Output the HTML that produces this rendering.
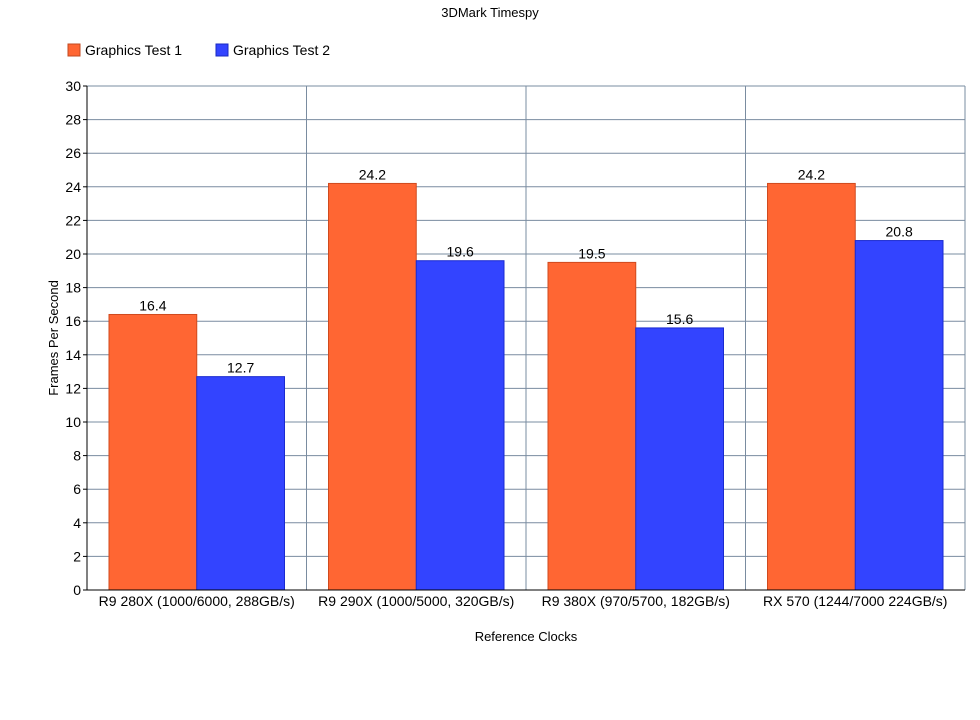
<!DOCTYPE html>
<html><head><meta charset="utf-8"><style>
body{margin:0;background:#fff;}
svg{display:block;font-family:"Liberation Sans",sans-serif;}
</style></head><body>
<svg id="chart" width="980" height="720" viewBox="0 0 980 720">
<text x="490" y="17" text-anchor="middle" font-size="13" fill="#000">3DMark Timespy</text>
<g>
<g>
<rect x="68" y="44" width="12" height="12" fill="#ff6633" stroke="#c04a20"/>
<text x="85" y="55" font-size="14">Graphics Test 1</text></g>
<g>
<rect x="216" y="44" width="12" height="12" fill="#3344ff" stroke="#1a2ac0"/>
<text x="233" y="55" font-size="14">Graphics Test 2</text></g>
</g>
<g id="plot"></g>
<text x="526" y="641" text-anchor="middle" font-size="13">Reference Clocks</text>
<text transform="translate(58,338) rotate(-90)" text-anchor="middle" font-size="13">Frames Per Second</text>
</svg>
<script>
const categories=["R9 280X (1000/6000, 288GB/s)","R9 290X (1000/5000, 320GB/s)","R9 380X (970/5700, 182GB/s)","RX 570 (1244/7000 224GB/s)"];
const test1=[16.4,24.2,19.5,24.2];
const test2=[12.7,19.6,15.6,20.8];
const yTicks=[0,2,4,6,8,10,12,14,16,18,20,22,24,26,28,30];
const NS="http://www.w3.org/2000/svg";
const x0=87,x1=965,y0=590,y1=86,yMax=30;
const band=(x1-x0)/categories.length;
const yS=v=>y0-(v/yMax)*(y0-y1);
const g=document.getElementById('plot');
function mk(t,a){const e=document.createElementNS(NS,t);for(const k in a)e.setAttribute(k,a[k]);g.appendChild(e);return e;}
yTicks.forEach(v=>{
 const l=mk('line',{x1:x0,x2:x1,y1:yS(v),y2:yS(v),stroke:'#7a8ca0','stroke-width':1});
 
 
 const tk=mk('line',{x1:x0-4,x2:x0,y1:yS(v),y2:yS(v),stroke:'#000'});
 
 
 const t=mk('text',{x:x0-6,y:yS(v)+5,'text-anchor':'end','font-size':14});
 t.textContent=v;
 
 
});
for(let i=1;i<=categories.length;i++){
 const l=mk('line',{x1:x0+band*i,x2:x0+band*i,y1:y1,y2:y0,stroke:'#7a8ca0'});
 
 
}
const pad=22,bw=(band-2*pad)/2;
function bar(v,x,fill,stroke,name){
 const r=mk('rect',{x:x,y:yS(v),width:bw,height:y0-yS(v),fill:fill,stroke:stroke,'stroke-width':1});
 
 
 const t=mk('text',{x:x+bw/2,y:yS(v)-4,'text-anchor':'middle','font-size':14});
 t.textContent=v.toFixed(1);
 
 
}
categories.forEach((c,i)=>{
 const bx=x0+band*i+pad;
 bar(test1[i],bx,'#ff6633','#d04a1e','bar-test1-'+i);
 bar(test2[i],bx+bw,'#3344ff','#1a2ad0','bar-test2-'+i);
 const t=mk('text',{x:x0+band*i+band/2,y:y0+16,'text-anchor':'middle','font-size':14});
 t.textContent=c;
 
 
});
const ax=mk('line',{x1:x0,x2:x0,y1:y1,y2:y0,stroke:'#000'});


const bx2=mk('line',{x1:x0,x2:x1,y1:y0,y2:y0,stroke:'#000'});


</script>
</body></html>
